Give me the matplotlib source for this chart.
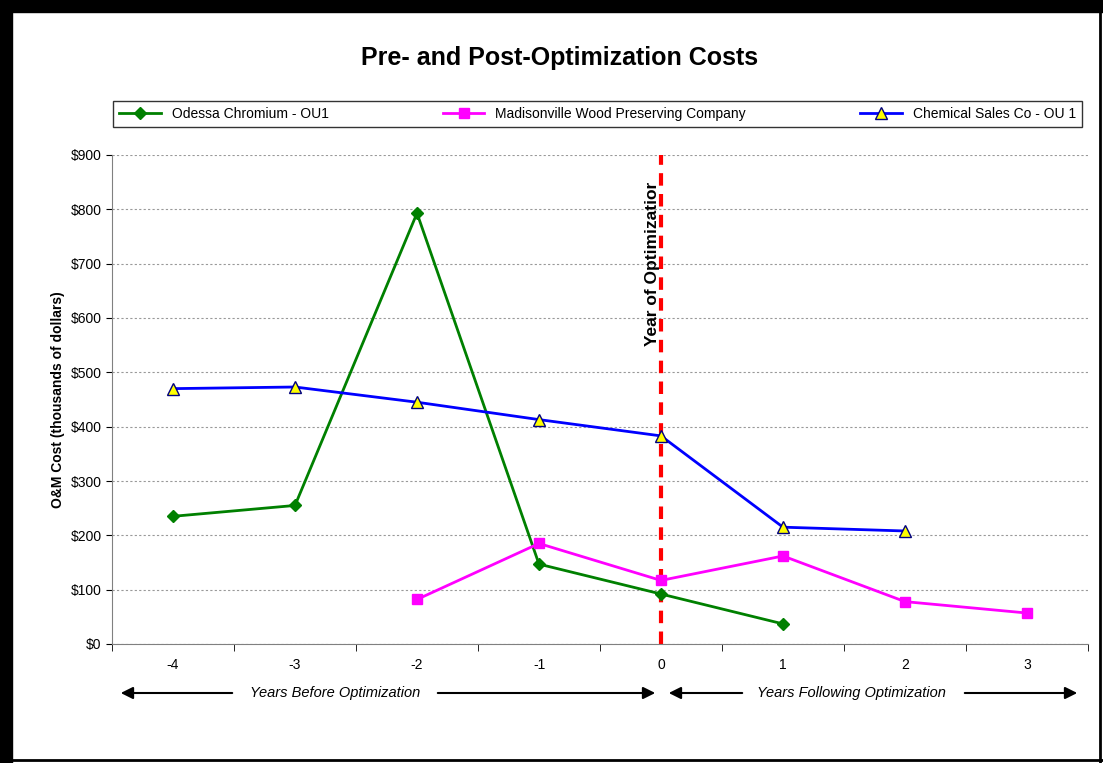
import matplotlib.pyplot as plt
from matplotlib import patches, lines

plt.rcParams["font.family"] = ["Liberation Sans", "DejaVu Sans"]
plt.rcParams["axes.unicode_minus"] = False

years = [-4, -3, -2, -1, 0, 1, 2, 3]
odessa_x = [-4, -3, -2, -1, 0, 1]
odessa = [235, 255, 793, 147, 92, 37]
madison_x = [-2, -1, 0, 1, 2, 3]
madison = [82, 185, 117, 162, 78, 57]
chem_x = [-4, -3, -2, -1, 0, 1, 2]
chem = [470, 473, 445, 413, 383, 215, 208]
yticks = [0, 100, 200, 300, 400, 500, 600, 700, 800, 900]

W, H = 1103, 763
fig = plt.figure(figsize=(W / 100, H / 100), dpi=100)
ax = fig.add_axes([112 / W, 1 - 644 / H, (1088 - 112) / W, (644 - 155) / H])

ax.plot(odessa_x, odessa, color="#008000", lw=2, marker="D", ms=6,
        label="Odessa Chromium - OU1", zorder=3)
ax.plot(madison_x, madison, color="#ff00ff", lw=2, marker="s", ms=7,
        label="Madisonville Wood Preserving Company", zorder=3)
ax.plot(chem_x, chem, color="#0000ff", lw=2, marker="^", ms=8,
        markerfacecolor="#ffff00", markeredgecolor="#000080",
        label="Chemical Sales Co - OU 1", zorder=3)
ax.plot([0, 0], [0, 900], color="red", lw=3, ls=(0, (3, 2)), zorder=2)
ax.text(-0.01, 850, "Year of Optimizatior", rotation=90, ha="right", va="top",
        fontsize=12.5, fontweight="bold")

ax.set_xlim(-4.5, 3.5)
ax.set_ylim(0, 900)
ax.set_xticks(years)
ax.set_xticks([y + 0.5 for y in years[:-1]] + [-4.5, 3.5], minor=True)
ax.tick_params(axis="x", which="major", length=0, pad=10, labelsize=10)
ax.tick_params(axis="x", which="minor", length=5)
ax.set_yticks(yticks)
ax.set_yticklabels([f"${v}" for v in yticks], fontsize=10)
ax.tick_params(axis="y", length=4)
ax.yaxis.grid(True, ls=(0, (2, 2)), color="#999999", lw=0.8)
for s in ["top", "right"]:
    ax.spines[s].set_visible(False)
ax.spines["left"].set_color("#808080")
ax.spines["bottom"].set_color("#808080")
ax.set_ylabel("O&M Cost (thousands of dollars)", fontsize=10, fontweight="bold")

fig.text(560 / W, 1 - 58 / H, "Pre- and Post-Optimization Costs",
         ha="center", va="center", fontsize=18, fontweight="bold")
fig.legend(loc="lower left", bbox_to_anchor=(113 / W, 1 - 127 / H, 969 / W, 30 / H),
           mode="expand", ncol=3, fontsize=10, frameon=True, fancybox=False,
           edgecolor="black", handlelength=3, borderpad=0.45, borderaxespad=0)

ay = 1 - 693 / H
def arrow(x0, x1):
    fig.add_artist(patches.FancyArrowPatch((x0 / W, ay), (x1 / W, ay),
                   transform=fig.transFigure, arrowstyle="-|>",
                   mutation_scale=18, color="black", lw=1.5))
arrow(235, 118)
arrow(435, 658)
arrow(745, 666)
arrow(962, 1080)
fig.text(335 / W, ay, "Years Before Optimization", ha="center", va="center",
         fontsize=10.5, style="italic")
fig.text(851 / W, ay, "Years Following Optimization", ha="center", va="center",
         fontsize=10.5, style="italic")

fig.add_artist(patches.Rectangle((0, 1 - 12 / H), 1, 12 / H, transform=fig.transFigure, color="black"))
fig.add_artist(patches.Rectangle((0, 0), 12 / W, 1, transform=fig.transFigure, color="black"))
fig.add_artist(lines.Line2D([1 - 3 / W, 1 - 3 / W], [0, 1], transform=fig.transFigure, color="black", lw=2))
fig.add_artist(lines.Line2D([0, 1], [3 / H, 3 / H], transform=fig.transFigure, color="black", lw=2))

fig.savefig("out.png", dpi=100)
